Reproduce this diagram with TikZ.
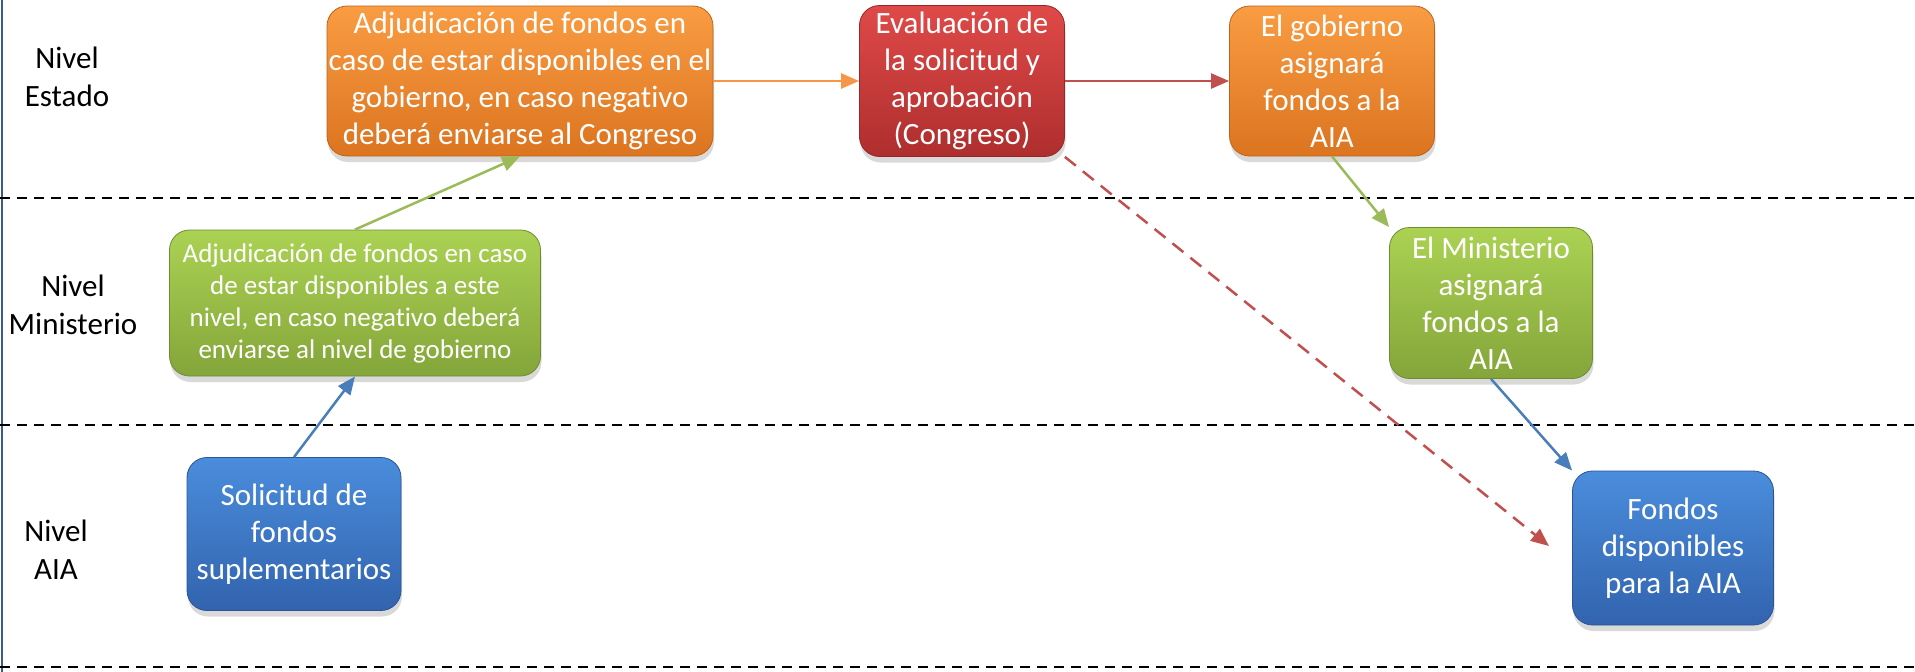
\documentclass[tikz,border=0pt]{standalone}
\usepackage{fontspec}
\setmainfont{Carlito}[Ligatures=NoCommon, Contextuals=NoAlternate]
\usetikzlibrary{arrows.meta,shadows,calc}
\definecolor{orTop}{HTML}{F99C42}
\definecolor{orBot}{HTML}{DC7420}
\definecolor{rdTop}{HTML}{DF4A48}
\definecolor{rdBot}{HTML}{AE2E2E}
\definecolor{grTop}{HTML}{ABD253}
\definecolor{grBot}{HTML}{84A53A}
\definecolor{blTop}{HTML}{4A8DDC}
\definecolor{blBot}{HTML}{3263AE}
\definecolor{orLine}{HTML}{F79646}
\definecolor{rdLine}{HTML}{C0504D}
\definecolor{grLine}{HTML}{9BBB59}
\definecolor{blLine}{HTML}{4A7EBB}
\definecolor{edge}{HTML}{3B5B8A}
\tikzset{
  box/.style={rounded corners=20pt, text=white, align=center, inner sep=0pt,
    font=\fontsize{31}{37}\selectfont,
    drop shadow={shadow xshift=1pt, shadow yshift=-6pt, opacity=0.3}},
  orbox/.style={box, top color=orTop, bottom color=orBot, draw=orBot!85!black, line width=0.8pt},
  rdbox/.style={box, top color=rdTop, bottom color=rdBot, draw=rdBot!85!black, line width=0.8pt},
  grbox/.style={box, top color=grTop, bottom color=grBot, draw=grBot!85!black, line width=0.8pt},
  blbox/.style={box, top color=blTop, bottom color=blBot, draw=blBot!85!black, line width=0.8pt},
  conn/.style={line width=2.5pt, -{Triangle[length=18pt,width=15pt]}},
  lane/.style={dash pattern=on 10pt off 7pt, line width=2pt, black},
  lbl/.style={align=center, font=\fontsize{31}{38}\selectfont, text=black}
}
\begin{document}
\begin{tikzpicture}[x=1pt,y=-1pt]
\useasboundingbox (0,0) rectangle (1915,672);
% frame line on the left
\coordinate (lt) at (1.5,0);
\coordinate (lb) at (1.5,672);
\draw[edge, line width=2pt] (lt) -- (lb);
% lane separators
\coordinate (d1a) at (0,198); \coordinate (d1b) at (1915,198);
\coordinate (d2a) at (0,425); \coordinate (d2b) at (1915,425);
\coordinate (d3a) at (0,667); \coordinate (d3b) at (1915,667);
\draw[lane] (d1a) -- (d1b);
\draw[lane] (d2a) -- (d2b);
\draw[lane] (d3a) -- (d3b);
% level labels
\node[lbl] (l1) at (67,77) {Nivel\\Estado};
\node[lbl] (l2) at (73,305) {Nivel\\Ministerio};
\node[lbl] (l3) at (56,550) {Nivel\\AIA};
% boxes
\node[orbox, minimum width=386pt, minimum height=150pt] (oa) at (520,81)
  {Adjudicación de fondos en\\caso de estar disponibles en el\\gobierno, en caso negativo\\deberá enviarse al Congreso};
\node[rdbox, minimum width=205pt, minimum height=151pt] (rd) at (962,81)
  {Evaluación de\\la solicitud y\\aprobación\\(Congreso)};
\node[orbox, minimum width=205pt, minimum height=150pt] (ob) at (1332,81)
  {El gobierno\\asignará\\fondos a la\\AIA};
\node[grbox, minimum width=371pt, minimum height=146pt, font=\fontsize{27}{32}\selectfont] (ga) at (355,303)
  {Adjudicación de fondos en caso\\de estar disponibles a este\\nivel, en caso negativo deberá\\enviarse al nivel de gobierno};
\node[grbox, minimum width=203pt, minimum height=151pt] (gb) at (1491,303)
  {El Ministerio\\asignará\\fondos a la\\AIA};
\node[blbox, minimum width=214pt, minimum height=153pt] (ba) at (294,534)
  {Solicitud de\\fondos\\suplementarios};
\node[blbox, minimum width=201pt, minimum height=154pt] (bb) at (1673,548)
  {Fondos\\disponibles\\para la AIA};
% connectors
\draw[conn, blLine] (ba.north) -- (ga.south);
\draw[conn, grLine] (ga.north) -- (oa.south);
\draw[conn, orLine] (oa.east) -- (rd.west);
\draw[conn, rdLine] (rd.east) -- (ob.west);
\draw[conn, grLine] (ob.south) -- (gb.north west);
\draw[conn, blLine] (gb.south) -- (bb.north west);
\coordinate (rdEnd) at (1549,546);
\draw[conn, rdLine, dash pattern=on 14pt off 9pt] (rd.south east) -- (rdEnd);
\end{tikzpicture}
\end{document}
